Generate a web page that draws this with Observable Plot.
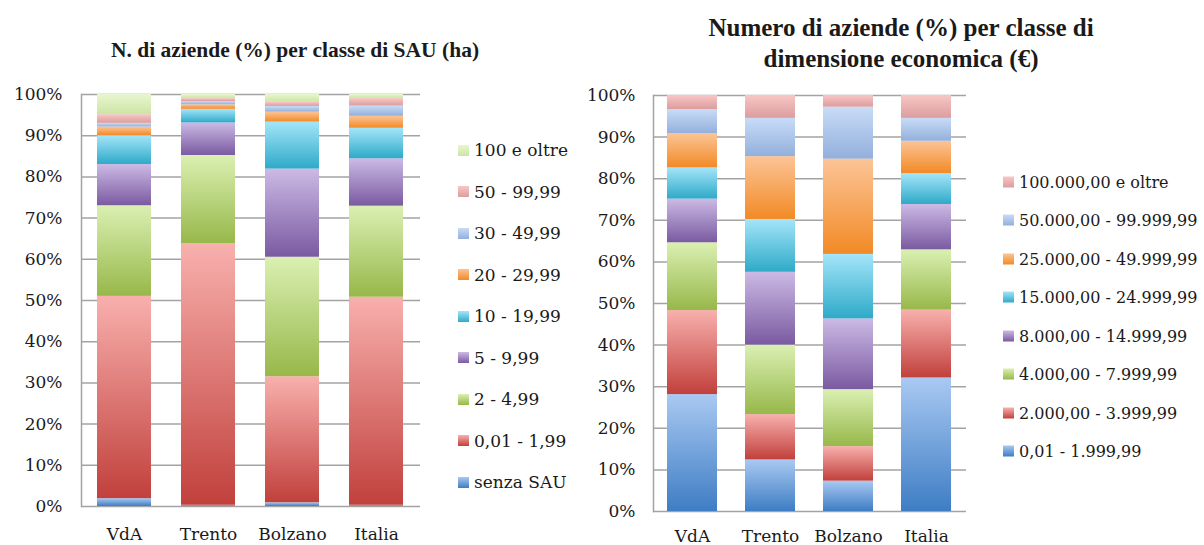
<!DOCTYPE html>
<html><head><meta charset="utf-8">
<script src="https://cdn.jsdelivr.net/npm/d3@7"></script>
<script src="https://cdn.jsdelivr.net/npm/@observablehq/plot@0.6"></script>
<style>
body{margin:0;background:#fff;}
#root{position:relative;width:1204px;height:545px;overflow:hidden;font-family:"DejaVu Serif",serif;color:#1a1a1a;}
.title{position:absolute;font-family:"Liberation Serif",serif;font-weight:bold;text-align:center;white-space:nowrap;}
.plot{position:absolute;top:0;}
.leg{position:absolute;white-space:nowrap;}
.leg .row{position:absolute;left:0;display:flex;align-items:center;transform:translateY(-50%);}
.leg .sw{width:11px;height:11px;margin-right:5px;}
</style></head><body><div id="root"></div>
<script>
// ---- data ----
const regions = ["VdA", "Trento", "Bolzano", "Italia"];
const sauClasses = ["senza SAU", "0,01 - 1,99", "2 - 4,99", "5 - 9,99", "10 - 19,99", "20 - 29,99", "30 - 49,99", "50 - 99,99", "100 e oltre"];
const sauVdA     = [1.9, 49.1, 22.0, 10.0, 7.0, 2.1, 0.9, 2.1, 4.9];
const sauTrento  = [0.3, 63.5, 21.4, 7.9, 3.3, 1.1, 0.8, 0.7, 1.0];
const sauBolzano = [0.9, 30.6, 29.0, 21.4, 11.4, 2.4, 1.4, 1.0, 1.9];
const sauItalia  = [0.3, 50.5, 22.1, 11.5, 7.4, 2.9, 2.5, 1.8, 1.0];

const ecoClasses = ["0,01 - 1.999,99", "2.000,00 - 3.999,99", "4.000,00 - 7.999,99", "8.000,00 - 14.999,99", "15.000,00 - 24.999,99", "25.000,00 - 49.999,99", "50.000,00 - 99.999,99", "100.000,00 e oltre"];
const ecoVdA     = [28.1, 20.2, 16.3, 10.5, 7.5, 8.2, 5.8, 3.4];
const ecoTrento  = [12.4, 10.9, 16.7, 17.5, 12.7, 15.1, 9.2, 5.5];
const ecoBolzano = [7.3, 8.3, 13.7, 17.0, 15.5, 22.9, 12.5, 2.8];
const ecoItalia  = [32.1, 16.3, 14.5, 10.9, 7.4, 7.8, 5.5, 5.5];

const yTicks = [0, 10, 20, 30, 40, 50, 60, 70, 80, 90, 100];

// ---- styles ----
const palette = {
  blue: ["#a9c9f2", "#3e7dc4"],
  red: ["#f8b0ad", "#c1403c"],
  green: ["#daf0b2", "#97b84a"],
  purple: ["#ccbae5", "#7a5aa1"],
  cyan: ["#a4e5f9", "#2eaac8"],
  orange: ["#fcc496", "#f28a26"],
  lightblue: ["#c8dcf7", "#93afdb"],
  pink: ["#f8c6c6", "#dc9d9d"],
  palegreen: ["#e8f6cf", "#cde4a5"]
};
const sauColors = ["blue", "red", "green", "purple", "cyan", "orange", "lightblue", "pink", "palegreen"];
const ecoColors = ["blue", "red", "green", "purple", "cyan", "orange", "lightblue", "pink"];

const root = document.getElementById("root");

// gradient defs
const ns = "http://www.w3.org/2000/svg";
const defsSvg = document.createElementNS(ns, "svg");
defsSvg.setAttribute("width", 0); defsSvg.setAttribute("height", 0);
defsSvg.style.position = "absolute";
const defs = document.createElementNS(ns, "defs");
for (const [name, [c0, c1]] of Object.entries(palette)) {
  const g = document.createElementNS(ns, "linearGradient");
  g.setAttribute("id", "g-" + name);
  g.setAttribute("x1", 0); g.setAttribute("y1", 0); g.setAttribute("x2", 0); g.setAttribute("y2", 1);
  for (const [o, c] of [[0, c0], [1, c1]]) {
    const s = document.createElementNS(ns, "stop");
    s.setAttribute("offset", o); s.setAttribute("stop-color", c);
    g.appendChild(s);
  }
  defs.appendChild(g);
}
defsSvg.appendChild(defs);
root.appendChild(defsSvg);

function buildRows(classes, colors, seriesByRegion) {
  const rows = [];
  regions.forEach((r, ri) => {
    classes.forEach((c, ci) => {
      rows.push({region: r, cls: c, value: seriesByRegion[ri][ci], fill: "url(#g-" + colors[ci] + ")"});
    });
  });
  return rows;
}

function makeChart(rows, opts) {
  return Plot.plot({
    width: opts.width, height: 545,
    marginLeft: opts.ml, marginRight: opts.mr, marginTop: opts.mt, marginBottom: opts.mb,
    style: {fontFamily: "'DejaVu Serif', serif", fontSize: "17px", color: "#1a1a1a", background: "transparent", overflow: "visible"},
    x: {domain: regions, paddingInner: 0.353, paddingOuter: 0.176, label: null},
    y: {domain: [0, 100], label: null},
    color: {type: "identity"},
    marks: [
      Plot.ruleY(yTicks, {stroke: "#a3a3a3", strokeWidth: 1.5}),
      Plot.frame({anchor: "left", stroke: "#a3a3a3", strokeWidth: 1.5}),
      Plot.barY(rows, Plot.stackY({x: "region", y: "value", fill: "fill", order: null})),
      Plot.axisY({ticks: yTicks, tickFormat: d => d + "%", tickSize: 0, tickPadding: opts.yPad, fontSize: 17}),
      Plot.axisX({tickSize: 0, tickPadding: opts.xPad, fontSize: 17})
    ]
  });
}

const left = makeChart(buildRows(sauClasses, sauColors, [sauVdA, sauTrento, sauBolzano, sauItalia]),
  {width: 440, ml: 81, mr: 20, mt: 94, mb: 39, yPad: 19, xPad: 21});
left.classList.add("plot"); left.style.left = "0px";
root.appendChild(left);

const right = makeChart(buildRows(ecoClasses, ecoColors, [ecoVdA, ecoTrento, ecoBolzano, ecoItalia]),
  {width: 406, ml: 83, mr: 10, mt: 95, mb: 34, yPad: 18, xPad: 18});
right.classList.add("plot"); right.style.left = "570px";
root.appendChild(right);

// titles
function addTitle(lines, cx, top, fs, lh) {
  const d = document.createElement("div");
  d.className = "title";
  d.innerHTML = lines.join("<br>");
  d.style.fontSize = fs + "px"; d.style.lineHeight = lh + "px";
  d.style.left = (cx - 300) + "px"; d.style.width = "600px"; d.style.top = top + "px";
  root.appendChild(d);
}
addTitle(["N. di aziende (%) per classe di SAU (ha)"], 295, 35, 21.5, 30);
addTitle(["Numero di aziende (%) per classe di", "dimensione economica (€)"], 901, 12, 25, 31);

// legends (top item first = last class)
function addLegend(classes, colors, x, y0, step, fs) {
  const d = document.createElement("div");
  d.className = "leg";
  d.style.left = x + "px"; d.style.top = "0px"; d.style.fontSize = fs + "px";
  const n = classes.length;
  for (let k = 0; k < n; k++) {
    const ci = n - 1 - k;
    const row = document.createElement("div");
    row.className = "row";
    row.style.top = (y0 + k * step) + "px";
    const [c0, c1] = palette[colors[ci]];
    row.innerHTML = `<div class="sw" style="background:linear-gradient(${c0},${c1})"></div><span>${classes[ci]}</span>`;
    d.appendChild(row);
  }
  root.appendChild(d);
}
addLegend(sauClasses, sauColors, 458, 150, 41.5, 17);
addLegend(ecoClasses, ecoColors, 1003, 181.7, 38.5, 16);
</script></body></html>
